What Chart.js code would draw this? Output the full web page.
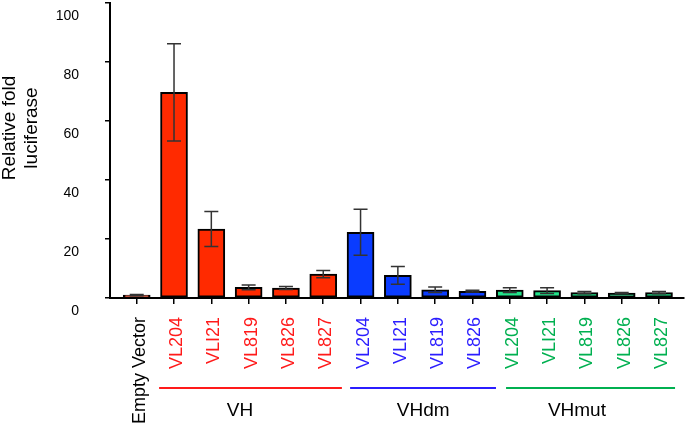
<!DOCTYPE html>
<html lang="en">
<head>
    <meta charset="UTF-8">
    <title>Relative fold luciferase</title>
    <script src="https://cdn.jsdelivr.net/npm/chart.js"></script>
    <style>
        * { margin: 0; padding: 0; box-sizing: border-box; }
        body { background: #fff; width: 685px; height: 431px; overflow: hidden; }
        .chart-box { position: relative; width: 685px; height: 431px; }
    </style>
</head>
<body>
    <div class="chart-box">
        <canvas id="barChart"></canvas>
    </div>

    <script>
        // Data
        const categories = ['Empty Vector', 'VL204', 'VLI21', 'VL819', 'VL826', 'VL827',
            'VL204', 'VLI21', 'VL819', 'VL826',
            'VL204', 'VLI21', 'VL819', 'VL826', 'VL827'];
        const values = [1.0, 69.7, 23.4, 3.6, 3.4, 8.1, 22.3, 7.7, 2.8, 2.3, 2.7, 2.5, 1.8, 1.7, 1.8];
        const errors = [0.2, 16.5, 5.9, 0.8, 0.5, 1.2, 7.8, 3.0, 0.9, 0.3, 0.8, 1.0, 0.4, 0.2, 0.4];
        const groupNames = ['', 'VH', 'VH', 'VH', 'VH', 'VH', 'VHdm', 'VHdm', 'VHdm', 'VHdm',
            'VHmut', 'VHmut', 'VHmut', 'VHmut', 'VHmut'];
        const yTicks = [0, 20, 40, 60, 80, 100];

        // Styles
        const fillColors = { '': '#ff2a00', VH: '#ff2a00', VHdm: '#0a3cff', VHmut: '#22e38a' };
        const textColors = { '': '#000000', VH: '#ff1a1a', VHdm: '#2b1dff', VHmut: '#00b050' };
        // group underline span and label centre, in category units
        const groupLines = [
            { name: 'VH', from: 0.6, to: 5.5, label: 2.77 },
            { name: 'VHdm', from: 5.72, to: 9.63, label: 7.68 },
            { name: 'VHmut', from: 9.9, to: 14.43, label: 11.8 }
        ];
        const FONT = '"Liberation Sans", Arial, Helvetica, sans-serif';

        // Error bars, group underlines and axis title
        const extras = {
            id: 'extras',
            afterDatasetsDraw(chart) {
                const { ctx, scales: { x, y } } = chart;
                ctx.save();
                ctx.strokeStyle = '#333';
                ctx.lineWidth = 1.5;
                values.forEach((v, i) => {
                    const px = x.getPixelForValue(i);
                    const top = y.getPixelForValue(v + errors[i]);
                    const bot = y.getPixelForValue(Math.max(0, v - errors[i]));
                    ctx.beginPath();
                    ctx.moveTo(px, top); ctx.lineTo(px, bot);
                    ctx.moveTo(px - 7, top); ctx.lineTo(px + 7, top);
                    ctx.moveTo(px - 7, bot); ctx.lineTo(px + 7, bot);
                    ctx.stroke();
                });
                ctx.restore();
            },
            afterDraw(chart) {
                const { ctx, scales: { x } } = chart;
                ctx.save();
                groupLines.forEach(g => {
                    ctx.strokeStyle = textColors[g.name];
                    ctx.lineWidth = 2;
                    ctx.beginPath();
                    ctx.moveTo(x.getPixelForValue(g.from), 388);
                    ctx.lineTo(x.getPixelForValue(g.to), 388);
                    ctx.stroke();
                    ctx.fillStyle = '#000';
                    ctx.font = '19px ' + FONT;
                    ctx.textAlign = 'center';
                    ctx.textBaseline = 'alphabetic';
                    ctx.fillText(g.name, x.getPixelForValue(g.label), 416);
                });
                // y axis title, two lines
                ctx.fillStyle = '#000';
                ctx.font = '19px ' + FONT;
                ctx.textAlign = 'center';
                ctx.textBaseline = 'alphabetic';
                [['Relative fold', 15], ['luciferase', 36.5]].forEach(([t, bx]) => {
                    ctx.save();
                    ctx.translate(bx, 128);
                    ctx.rotate(-Math.PI / 2);
                    ctx.fillText(t, 0, 0);
                    ctx.restore();
                });
                ctx.restore();
            }
        };

        const barCtx = document.getElementById('barChart').getContext('2d');
        const barChart = new Chart(barCtx, {
            type: 'bar',
            data: {
                datasets: [{
                    data: values.map((v, i) => ({ x: i, y: v })),
                    backgroundColor: groupNames.map(g => fillColors[g]),
                    borderColor: '#000',
                    borderWidth: 2,
                    borderSkipped: false,
                    barThickness: 27
                }]
            },
            options: {
                responsive: true,
                maintainAspectRatio: false,
                animation: false,
                layout: { padding: { top: 3, right: 1, left: 0, bottom: 0 } },
                scales: {
                    x: {
                        type: 'linear',
                        offset: false,
                        min: -0.716,
                        max: 14.67,
                        afterBuildTicks: (scale) => {
                            scale.ticks = categories.map((_, i) => ({ value: i }));
                        },
                        afterFit: (scale) => {
                            scale.height = 133;
                            scale.paddingLeft = 0;
                            scale.paddingRight = 0;
                        },
                        grid: {
                            display: true,
                            offset: false,
                            drawOnChartArea: false,
                            drawTicks: true,
                            tickLength: 6,
                            color: '#000',
                            lineWidth: 1.5
                        },
                        border: { display: true, color: '#000', width: 2 },
                        ticks: {
                            autoSkip: false,
                            minRotation: 90,
                            maxRotation: 90,
                            padding: 13,
                            labelOffset: 3,
                            font: { family: FONT, size: 18 },
                            color: (c) => textColors[groupNames[c.index]] || '#000',
                            callback: (value, index) => categories[index]
                        }
                    },
                    y: {
                        min: 0,
                        max: 100,
                        afterBuildTicks: (scale) => {
                            scale.ticks = yTicks.map(v => ({ value: v }));
                        },
                        afterFit: (scale) => {
                            scale.width = 110;
                            scale.paddingTop = 0;
                            scale.paddingBottom = 0;
                        },
                        grid: {
                            display: true,
                            drawOnChartArea: false,
                            drawTicks: true,
                            tickLength: 5,
                            color: '#000',
                            lineWidth: 1.5
                        },
                        border: { display: true, color: '#000', width: 2 },
                        ticks: {
                            padding: 26,
                            labelOffset: 13,
                            font: { family: FONT, size: 14 },
                            color: '#000'
                        }
                    }
                },
                plugins: {
                    legend: { display: false },
                    tooltip: { enabled: false }
                }
            },
            plugins: [extras]
        });
    </script>
</body>
</html>
